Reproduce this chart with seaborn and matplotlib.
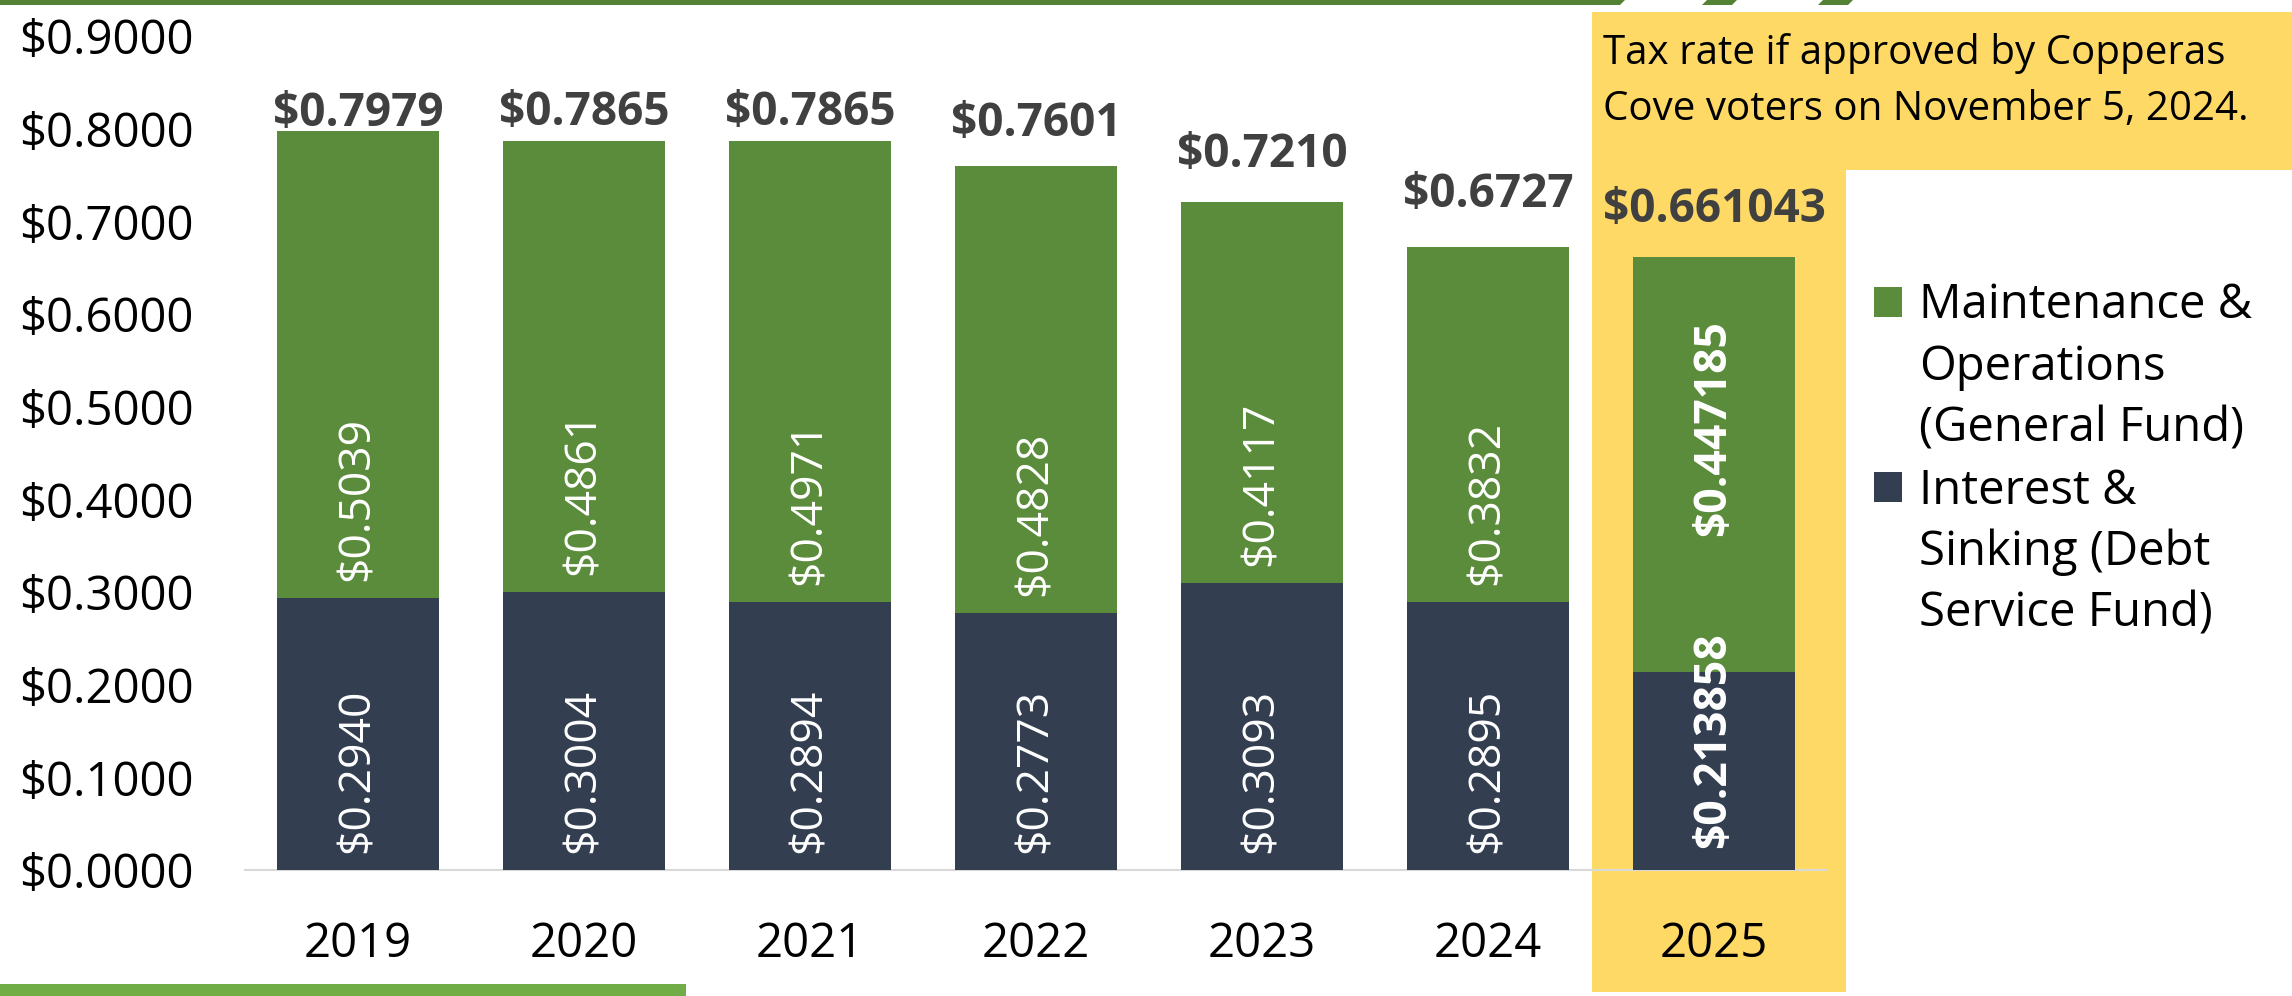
import matplotlib
matplotlib.use("Agg")
import pandas as pd
import matplotlib.pyplot as plt
from matplotlib.patches import Patch, Polygon
import seaborn as sns

# ---- data ----
years = ["2019", "2020", "2021", "2022", "2023", "2024", "2025"]
debt_service = [0.2940, 0.3004, 0.2894, 0.2773, 0.3093, 0.2895, 0.213858]   # Interest & Sinking
general_fund = [0.5039, 0.4861, 0.4971, 0.4828, 0.4117, 0.3832, 0.447185]   # Maintenance & Operations
decimals = [4, 4, 4, 4, 4, 4, 6]
y_ticks = [0.0, 0.1, 0.2, 0.3, 0.4, 0.5, 0.6, 0.7, 0.8, 0.9]
legend_labels = ["Maintenance &\nOperations\n(General Fund)",
                 "Interest &\nSinking (Debt\nService Fund)"]
note = "Tax rate if approved by Copperas\nCove voters on November 5, 2024."

# ---- style ----
GREEN = "#5B8C3C"
NAVY = "#333F50"
GOLD = "#FFD966"
DARK_GREEN = "#548235"
LIGHT_GREEN = "#70AD47"
LABEL_GRAY = "#404040"

# label offsets in pixels (text placement, not data)
total_pad = [5, 16, 16, 30, 35, 40, 35]
green_pad = [17, 17, 17, 17, 17, 17, 136]
navy_pad = [17, 17, 17, 17, 17, 17, 22]

df = pd.DataFrame({"year": years, "debt": debt_service, "general": general_fund})
df["total"] = df["debt"] + df["general"]

sns.set_theme(style="white")
plt.rcParams["font.family"] = ["Open Sans", "DejaVu Sans"]

W, H = 2292, 996
fig = plt.figure(figsize=(W / 100, H / 100), dpi=100)
fig.patch.set_facecolor("white")


def fpt(x, y):
    return (x / W, 1 - y / H)


# yellow highlight behind the 2025 column and the note
gold_shape = [(1592, 12), (2292, 12), (2292, 170), (1846, 170), (1846, 992), (1592, 992)]
fig.add_artist(Polygon([fpt(x, y) for x, y in gold_shape], closed=True,
                       transform=fig.transFigure, facecolor=GOLD, edgecolor="none", zorder=-1))

# decorative slide lines
for shape, col in [
    ([(0, 0), (1625, 0), (1620, 5), (0, 5)], DARK_GREEN),
    ([(1707, 0), (1737, 0), (1732, 5), (1702, 5)], DARK_GREEN),
    ([(1823, 0), (1853, 0), (1848, 5), (1818, 5)], DARK_GREEN),
    ([(0, 984), (686, 984), (686, 996), (0, 996)], LIGHT_GREEN),
]:
    fig.add_artist(Polygon([fpt(x, y) for x, y in shape], closed=True,
                           transform=fig.transFigure, facecolor=col, edgecolor="none"))

ax = fig.add_axes([245 / W, 1 - 870 / H, (1827 - 245) / W, (870 - 36) / H])
ax.set_facecolor("none")

# stacked bars: full total in green, debt service drawn over it in navy
sns.barplot(data=df, x="year", y="total", color=GREEN, saturation=1, width=0.717,
            errorbar=None, ax=ax, zorder=2, edgecolor="none", linewidth=0)
sns.barplot(data=df, x="year", y="debt", color=NAVY, saturation=1, width=0.717,
            errorbar=None, ax=ax, zorder=3, edgecolor="none", linewidth=0)

for i, row in df.iterrows():
    d = decimals[i]
    weight = "bold" if i == len(df) - 1 else "normal"
    ax.annotate(f"${row['debt']:.{d}f}", xy=(i, 0), xytext=(0, navy_pad[i]),
                textcoords="offset pixels", rotation=90, ha="center", va="bottom",
                color="white", fontsize=32, fontweight=weight, zorder=5)
    ax.annotate(f"${row['general']:.{d}f}", xy=(i, row["debt"]), xytext=(0, green_pad[i]),
                textcoords="offset pixels", rotation=90, ha="center", va="bottom",
                color="white", fontsize=32, fontweight=weight, zorder=5)
    ax.annotate(f"${row['total']:.{d}f}", xy=(i, row["total"]), xytext=(0, total_pad[i]),
                textcoords="offset pixels", ha="center", va="baseline",
                color=LABEL_GRAY, fontsize=33, fontweight="bold", zorder=5)

ax.set_xlim(-0.5, 6.5)
ax.set_ylim(0, 0.9)
ax.set_yticks(y_ticks)
ax.set_yticklabels([f"${v:.4f}" for v in y_ticks])
ax.set_xlabel("")
ax.set_ylabel("")
ax.tick_params(axis="y", length=0, pad=37, labelsize=34, labelcolor="black")
ax.tick_params(axis="x", length=0, pad=36, labelsize=34, labelcolor="black")
for side in ["left", "right", "top"]:
    ax.spines[side].set_visible(False)
ax.spines["bottom"].set_color("#D9D9D9")
ax.spines["bottom"].set_linewidth(1.5)
ax.grid(False)

# legend: one row per text line so the squares sit on the first line
handles, labels = [], []
for lab, col in zip(legend_labels, [GREEN, NAVY]):
    for k, line in enumerate(lab.split("\n")):
        handles.append(Patch(facecolor=col if k == 0 else "none", edgecolor="none"))
        labels.append(line)
fig.legend(handles, labels, loc="upper left", bbox_to_anchor=fpt(1874, 282),
           frameon=False, fontsize=34, labelcolor="black", handlelength=0.6,
           handleheight=0.6, handletextpad=0.35, labelspacing=0.3,
           borderpad=0, borderaxespad=0)

fig.text(*fpt(1603, 33), note, ha="left", va="top", fontsize=29,
         linespacing=1.52, color="black")

fig.savefig("out.png", dpi=100)
